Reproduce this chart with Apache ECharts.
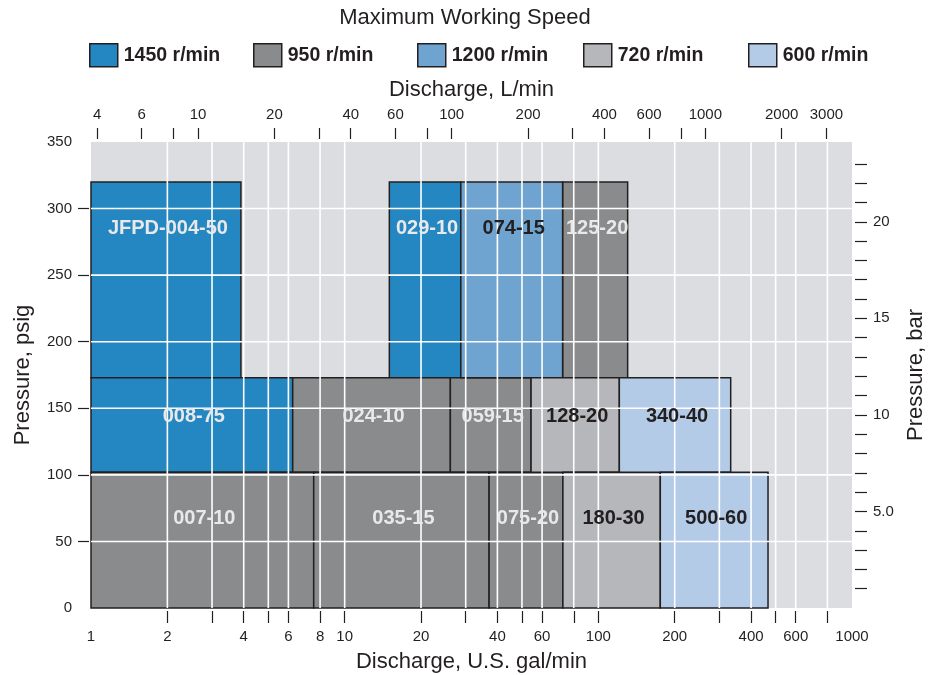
<!DOCTYPE html>
<html><head><meta charset="utf-8">
<script src="https://cdn.jsdelivr.net/npm/echarts@6/dist/echarts.min.js"></script>
<style>html,body{margin:0;padding:0;background:#fff}#c{width:930px;height:675px}</style>
</head><body><div id="c"></div>
<script>
// ---- data ----
const speeds = ['1450 r/min', '950 r/min', '1200 r/min', '720 r/min', '600 r/min'];
const speedColors = ['#2587c1', '#8a8b8d', '#6fa4d0', '#b6b7ba', '#b3cbe6'];
const labelColors = ['#e9e9ea', '#e9e9ea', '#231f20', '#231f20', '#231f20'];

const models   = ['JFPD-004-50', '029-10', '074-15', '125-20', '008-75', '024-10', '059-15', '128-20', '340-40', '007-10', '035-15', '075-20', '180-30', '500-60'];
const modelSpeed = [0, 0, 2, 1, 0, 1, 1, 3, 4, 1, 1, 1, 3, 4];
const flowMin  = [1, 15.0, 28.7, 72.3, 1, 6.24, 26.1, 54.3, 121, 1, 7.55, 37.1, 72.5, 175.5];
const flowMax  = [3.9, 28.7, 72.3, 130.5, 6.24, 26.1, 54.3, 121, 332.5, 7.55, 37.1, 72.5, 175.5, 466.6];
const psiMin   = [173, 173, 173, 173, 102, 102, 102, 102, 102, 0, 0, 0, 0, 0];
const psiMax   = [320, 320, 320, 320, 173, 173, 173, 173, 173, 102, 102, 102, 102, 102];

const gpmTicks  = [2, 3, 4, 5, 6, 8, 10, 20, 30, 40, 50, 60, 80, 100, 200, 300, 400, 500, 600, 800];
const gpmLabels = [1, 2, 4, 6, 8, 10, 20, 40, 60, 100, 200, 400, 600, 1000];
const lpmTicks  = [4, 6, 8, 10, 20, 30, 40, 60, 80, 100, 200, 300, 400, 600, 800, 1000, 2000, 3000];
const lpmLabels = [4, 6, 10, 20, 40, 60, 100, 200, 400, 600, 1000, 2000, 3000];
const psiTicks  = [50, 100, 150, 200, 250, 300];
const psiLabels = [0, 50, 100, 150, 200, 250, 300, 350];
const barTicks  = [1, 2, 3, 4, 5, 6, 7, 8, 9, 10, 11, 12, 13, 14, 15, 16, 17, 18, 19, 20, 21, 22, 23];
const barLabels = [5, 10, 15, 20];

const GPM_MIN = 1, GPM_MAX = 1000, PSI_MIN = 0, PSI_MAX = 350;
const L_PER_GAL = 3.78541, PSI_PER_BAR = 14.5038;

// ---- chart ----
const FONT = '"Liberation Sans", Arial, Helvetica, sans-serif';
const INK = '#231f20';
const chart = echarts.init(document.getElementById('c'), null, {renderer: 'canvas'});

function renderRect(params, api) {
  const p0 = api.coord([api.value(0), api.value(3)]);
  const p1 = api.coord([api.value(1), api.value(2)]);
  return {
    type: 'rect',
    shape: {x: p0[0], y: p0[1], width: p1[0] - p0[0], height: p1[1] - p0[1]},
    style: {fill: api.visual('color'), stroke: INK, lineWidth: 1.5}
  };
}

function renderLabel(params, api) {
  const i = params.dataIndex;
  const p0 = api.coord([api.value(0), api.value(3)]);
  const p1 = api.coord([api.value(1), api.value(2)]);
  const h = p1[1] - p0[1];
  const off = Math.min(46.5, h / 2 - 8);
  return {
    type: 'text',
    x: (p0[0] + p1[0]) / 2 + 2,
    y: p0[1] + off,
    style: {
      text: models[i], fill: labelColors[modelSpeed[i]],
      font: 'bold 20px ' + FONT, align: 'center', verticalAlign: 'middle'
    }
  };
}

function renderVGrid(params, api) {
  const cs = params.coordSys;
  const p = api.coord([api.value(0), PSI_MIN]);
  return {type: 'line', shape: {x1: p[0], y1: cs.y, x2: p[0], y2: cs.y + cs.height},
          style: {stroke: '#ffffff', lineWidth: 1.6}};
}
function renderHGrid(params, api) {
  const cs = params.coordSys;
  const p = api.coord([GPM_MIN, api.value(1)]);
  return {type: 'line', shape: {x1: cs.x, y1: p[1], x2: cs.x + cs.width, y2: p[1]},
          style: {stroke: '#ffffff', lineWidth: 1.6}};
}

const rectSeries = speeds.map((name, s) => ({
  name: name, type: 'custom', renderItem: renderRect, z: 2,
  xAxisIndex: 0, yAxisIndex: 0,
  itemStyle: {color: speedColors[s], borderColor: INK, borderWidth: 1.5},
  encode: {x: [0, 1], y: [2, 3]},
  data: models.map((m, i) => modelSpeed[i] === s ? [flowMin[i], flowMax[i], psiMin[i], psiMax[i]] : null).filter(d => d)
}));

const legendLefts = [89, 253, 417, 583, 748];
const legends = speeds.map((name, s) => ({
  data: [name], left: legendLefts[s], top: 43, padding: 0,
  itemWidth: 28, itemHeight: 23, icon: 'rect', selectedMode: false,
  itemStyle: {borderColor: INK, borderWidth: 1.5},
  textStyle: {fontFamily: FONT, fontSize: 19.5, fontWeight: 'bold', color: INK, padding: [0, 0, 0, 1]}
}));

const axisNameStyle = {fontFamily: FONT, fontSize: 22, color: INK};
const axisLabelStyle = {fontFamily: FONT, fontSize: 15, color: INK};
const tickStyle = {color: INK, width: 1.2};
const noLine = {show: false, onZero: false};

chart.setOption({
  animation: false,
  backgroundColor: '#ffffff',
  title: {text: 'Maximum Working Speed', left: 'center', top: 2,
          textStyle: {fontFamily: FONT, fontSize: 22, fontWeight: 'normal', color: INK}},
  legend: legends,
  grid: {left: 91, right: 78, top: 142, bottom: 67, show: true, backgroundColor: '#dcdde0', borderWidth: 0,
         containLabel: false, outerBoundsMode: 'none'},
  xAxis: [
    {type: 'log', logBase: 10, min: GPM_MIN, max: GPM_MAX, position: 'bottom', offset: 3,
     name: 'Discharge, U.S. gal/min', nameLocation: 'middle', nameGap: 40, nameTextStyle: axisNameStyle,
     axisLine: noLine, splitLine: {show: false}, minorTick: {show: false},
     axisTick: {show: true, length: 12, lineStyle: tickStyle, customValues: gpmTicks},
     axisLabel: {margin: 18, ...axisLabelStyle, customValues: gpmLabels, formatter: v => String(v)}},
    {type: 'log', logBase: 10, min: GPM_MIN * L_PER_GAL, max: GPM_MAX * L_PER_GAL, position: 'top', offset: 3,
     name: 'Discharge, L/min', nameLocation: 'middle', nameGap: 38, nameTextStyle: axisNameStyle,
     axisLine: noLine, splitLine: {show: false}, minorTick: {show: false},
     axisTick: {show: true, length: 11, lineStyle: tickStyle, customValues: lpmTicks},
     axisLabel: {margin: 17, ...axisLabelStyle, customValues: lpmLabels, formatter: v => String(v)}}
  ],
  yAxis: [
    {type: 'value', min: PSI_MIN, max: PSI_MAX, interval: 50, position: 'left', offset: 2,
     name: 'Pressure, psig', nameLocation: 'middle', nameGap: 55, nameRotate: 90, nameTextStyle: axisNameStyle,
     axisLine: noLine, splitLine: {show: false},
     axisTick: {show: true, length: 11, lineStyle: tickStyle, customValues: psiTicks},
     axisLabel: {margin: 17, ...axisLabelStyle, customValues: psiLabels}},
    {type: 'value', min: PSI_MIN / PSI_PER_BAR, max: PSI_MAX / PSI_PER_BAR, position: 'right', offset: 3,
     name: 'Pressure, bar', nameLocation: 'middle', nameGap: 40, nameRotate: 90, nameTextStyle: axisNameStyle,
     axisLine: noLine, splitLine: {show: false},
     axisTick: {show: true, length: 12, lineStyle: tickStyle, customValues: barTicks},
     axisLabel: {margin: 18, ...axisLabelStyle, customValues: barLabels, formatter: v => (v === 5 ? '5.0' : String(v))}}
  ],
  series: [
    ...rectSeries,
    {type: 'custom', name: 'vgrid', renderItem: renderVGrid, z: 5, silent: true, xAxisIndex: 0, yAxisIndex: 0,
     encode: {x: 0, y: 1}, data: gpmTicks.map(v => [v, PSI_MIN])},
    {type: 'custom', name: 'hgrid', renderItem: renderHGrid, z: 5, silent: true, xAxisIndex: 0, yAxisIndex: 0,
     encode: {x: 0, y: 1}, data: psiTicks.map(v => [GPM_MIN, v])},
    {type: 'custom', name: 'labels', renderItem: renderLabel, z: 10, silent: true, xAxisIndex: 0, yAxisIndex: 0,
     encode: {x: [0, 1], y: [2, 3]},
     data: models.map((m, i) => [flowMin[i], flowMax[i], psiMin[i], psiMax[i]])}
  ]
});
</script>
</body></html>
